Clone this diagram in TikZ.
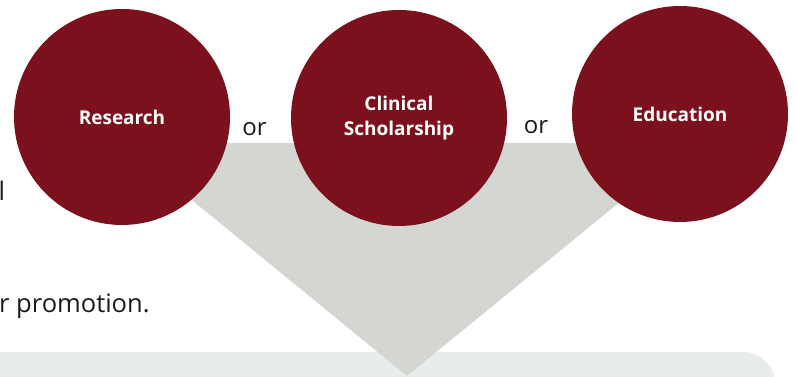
\documentclass[tikz,border=0pt]{standalone}
\usepackage{fontspec}
\setmainfont{Open Sans}
\usetikzlibrary{positioning}
\definecolor{mycrimson}{RGB}{123,17,28}
\definecolor{mygray}{RGB}{212,214,209}
\definecolor{mylight}{RGB}{232,236,234}
\definecolor{mytext}{RGB}{26,26,26}
\begin{document}
\begin{tikzpicture}[
    x=1pt, y=1pt,
    topic/.style={circle, fill=mycrimson, minimum size=216pt, inner sep=0pt, text=white, align=center, font=\fontsize{19}{25}\selectfont\bfseries},
    conj/.style={inner sep=0pt, text=mytext, font=\fontsize{24}{29}\selectfont},
    body/.style={inner sep=0pt, anchor=base west, text=mytext, font=\fontsize{25.5}{30}\selectfont}
]
\useasboundingbox (0,0) rectangle (796,377);
\clip (0,0) rectangle (796,377);

% Bottom panel
\fill[mylight, rounded corners=32pt] (-40,-40) rectangle (775,25);

% Funnel
\fill[mygray] (122,234) -- (692,234) -- (407,1) -- cycle;

% Pathways
\node[topic] (research) at (122,260) {Research};
\node[topic] (clinical) at (399,259) {Clinical\\Scholarship};
\node[topic] (education) at (680,263) {Education};

% Connectives
\node[conj, anchor=base] (or-a) at (254.5,241.5) {or};
\node[conj, anchor=base] (or-b) at (536,243.5) {or};

% Body text fragments
\node[body] (frag-l) at (-1.5,176) {l};
\node[body] (frag-promo) at (-1,64) {r promotion.};

\end{tikzpicture}
\end{document}
